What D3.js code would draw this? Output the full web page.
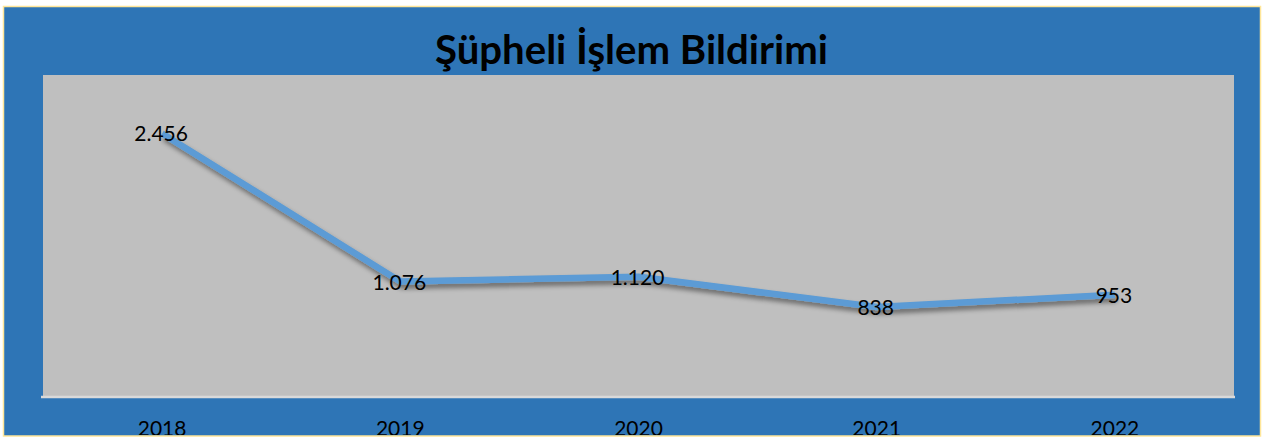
<!DOCTYPE html>
<html><head><meta charset="utf-8">
<script src="https://cdn.jsdelivr.net/npm/d3@7"></script>
<style>html,body{margin:0;padding:0;background:#fff;}svg{display:block;}</style>
</head><body>
<script>
const years = ["2018","2019","2020","2021","2022"];
const values = [2456, 1076, 1120, 838, 953];
const valueLabels = ["2.456","1.076","1.120","838","953"];
const yDomain = [0, 3000];
const title = "Şüpheli İşlem Bildirimi";

const W = 1263, H = 439;
const svg = d3.select("body").append("svg").attr("width", W).attr("height", H);
const defs = svg.append("defs");
const f = defs.append("filter").attr("id","sh").attr("x","-10%").attr("y","-50%").attr("width","120%").attr("height","200%");
f.append("feDropShadow").attr("dx",2).attr("dy",4).attr("stdDeviation",2.5).attr("flood-color","#000").attr("flood-opacity",0.45);
defs.append("clipPath").attr("id","frame").append("rect").attr("x",4).attr("y",7).attr("width",1256).attr("height",428);

// outer frame
svg.append("rect").attr("x",3.5).attr("y",6.5).attr("width",1257).attr("height",429.5)
  .attr("fill","#2E75B6").attr("stroke","#FFE699").attr("stroke-width",1.5);

const g = svg.append("g").attr("clip-path","url(#frame)");

const plot = {l:43, r:1234, t:75, b:397};
g.append("rect").attr("x",plot.l).attr("y",plot.t).attr("width",plot.r-plot.l).attr("height",plot.b-plot.t).attr("fill","#BFBFBF");

const x = d3.scaleBand().domain(years).range([plot.l, plot.r]);
const y = d3.scaleLinear().domain(yDomain).range([plot.b, plot.t]);

// axis
const ax = g.append("g").attr("transform",`translate(0,${plot.b})`)
  .call(d3.axisBottom(x).tickSize(0).tickSizeOuter(0));
ax.select(".domain").attr("stroke","#D9D9D9").attr("stroke-width",2.5).attr("d",`M41,0H1235`);
ax.selectAll(".tick text").attr("y",39).attr("dy",0).attr("fill","#000")
  .style("font-family","Lato, 'Open Sans', sans-serif").style("font-size","21px");

// line
const line = d3.line().x((d,i)=>x(years[i])+x.bandwidth()/2).y(d=>y(d));
g.append("path").datum(values).attr("d",line).attr("fill","none")
  .attr("stroke","#5B9BD5").attr("stroke-width",6.5).attr("stroke-linejoin","round")
  .attr("filter","url(#sh)");

// labels
g.selectAll("text.lbl").data(values).enter().append("text").attr("class","lbl")
  .attr("x",(d,i)=>x(years[i])+x.bandwidth()/2 - 1)
  .attr("y",d=>y(d)+8)
  .attr("text-anchor","middle").attr("fill","#000")
  .style("font-family","Lato, 'Open Sans', sans-serif").style("font-size","21px")
  .text((d,i)=>valueLabels[i]);

// title
const t = g.append("text").attr("x",631.5).attr("y",64).attr("text-anchor","middle")
  .style("font-family","Lato, 'Open Sans', sans-serif").style("font-weight","bold")
  .style("font-size","36px").attr("fill","#000").text(title);
const tw = t.node().getComputedTextLength();
t.style("font-size", (36*393/tw).toFixed(2)+"px");
</script>
</body></html>
